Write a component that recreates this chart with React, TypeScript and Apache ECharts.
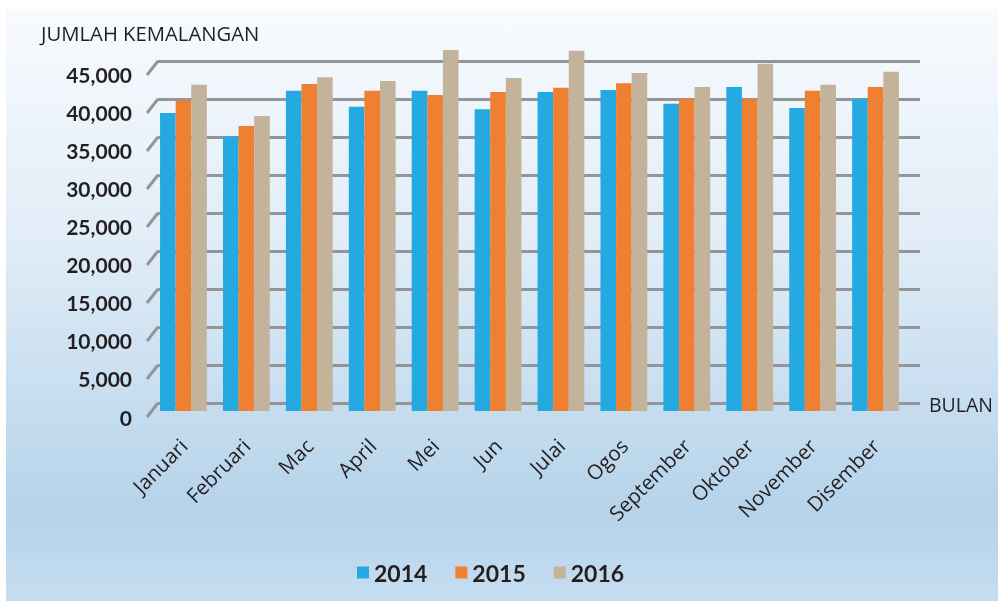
import React, { useEffect, useRef } from "react";
import * as echarts from "echarts";

const months = ["Januari", "Februari", "Mac", "April", "Mei", "Jun", "Julai", "Ogos", "September", "Oktober", "November", "Disember"];
const years = ["2014", "2015", "2016"];
const v2014 = [39100, 36000, 42000, 39900, 42000, 39600, 41850, 42100, 40300, 42500, 39750, 40950];
const v2015 = [40700, 37400, 42900, 42000, 41450, 41850, 42400, 43000, 40950, 40950, 42000, 42500];
const v2016 = [42800, 38700, 43800, 43300, 47350, 43700, 47250, 44350, 42500, 45550, 42800, 44500];
const yTicks = [0, 5000, 10000, 15000, 20000, 25000, 30000, 35000, 40000, 45000];
const colors = ["#24a9e1", "#ef7f31", "#c4b39b"];

const TEXT = "#231f20";
const GRID = "#939598";

export default function App() {
  const ref = useRef<HTMLDivElement>(null);
  useEffect(() => {
    if (!ref.current) return;
    const chart = echarts.init(ref.current, undefined, { renderer: "svg" });
    const seriesData = [v2014, v2015, v2016];
    chart.setOption({
      animation: false,
      color: colors,
      graphic: [
        {
          type: "rect",
          z: -10,
          silent: true,
          shape: { x: 6, y: 9, width: 992, height: 592 },
          style: {
            fill: new echarts.graphic.LinearGradient(0, 0, 0, 1, [
              { offset: 0, color: "#f8fbfe" },
              { offset: 0.4, color: "#e0ecf7" },
              { offset: 0.85, color: "#b5d3ea" },
              { offset: 1, color: "#c6ddf0" },
            ]),
          },
        },
        {
          type: "text",
          x: 41,
          y: 33,
          style: { text: "JUMLAH KEMALANGAN", fill: TEXT, font: "20.3px 'Open Sans'", verticalAlign: "middle" },
        },
        {
          type: "text",
          x: 929,
          y: 404,
          style: { text: "BULAN", fill: TEXT, font: "19.5px 'Open Sans'", verticalAlign: "middle" },
        },
      ],
      legend: {
        data: years,
        left: 352,
        top: 556,
        itemWidth: 12,
        itemHeight: 12,
        itemGap: 28,
        icon: "rect",
        textStyle: { color: TEXT, fontSize: 23, fontWeight: "bold", fontFamily: "Lato" },
      },
      grid: [
        { left: 158, top: 61, width: 762, height: 342 },
        { left: 152, top: 411 - (343 * 50000) / 45000, width: 755, height: (343 * 50000) / 45000 },
        { left: 147, top: 74, width: 10, height: 343 },
      ],
      xAxis: [
        { gridIndex: 0, type: "value", min: 0, max: 1, show: false },
        {
          gridIndex: 1,
          type: "category",
          data: months,
          axisLine: { show: false },
          axisTick: { show: false },
          axisLabel: {
            interval: 0,
            rotate: 45,
            margin: 31,
            color: TEXT,
            fontSize: 20.5,
            fontFamily: "Open Sans",
          },
        },
        { gridIndex: 2, type: "value", min: 0, max: 1, show: false },
      ],
      yAxis: [
        {
          gridIndex: 0,
          type: "value",
          min: 0,
          max: 45000,
          interval: 5000,
          axisLine: { show: false },
          axisTick: { show: false },
          axisLabel: { show: false },
          splitLine: { show: true, lineStyle: { color: GRID, width: 3 } },
        },
        { gridIndex: 1, type: "value", min: 0, max: 50000, show: false },
        {
          gridIndex: 2,
          type: "value",
          min: 0,
          max: 45000,
          interval: 5000,
          axisLine: { show: false },
          axisTick: { show: false },
          splitLine: { show: false },
          axisLabel: {
            margin: 15,
            color: TEXT,
            fontSize: 21,
            fontWeight: "bold",
            fontFamily: "Lato",
            formatter: (v: number) => v.toLocaleString("en-US"),
          },
        },
      ],
      series: [
        {
          type: "custom",
          xAxisIndex: 0,
          yAxisIndex: 0,
          silent: true,
          data: yTicks.map((v) => [0, v]),
          renderItem: (_p: any, api: any) => {
            const pt = api.coord([0, api.value(1)]);
            return {
              type: "line",
              shape: { x1: pt[0], y1: pt[1], x2: pt[0] - 11, y2: pt[1] + 14 },
              style: { stroke: GRID, lineWidth: 3 },
            };
          },
        },
        ...years.map((y, i) => ({
          name: y,
          type: "bar",
          xAxisIndex: 1,
          yAxisIndex: 1,
          data: seriesData[i],
          barWidth: 15.6,
          barGap: "0%",
          z: 5,
          itemStyle: { color: colors[i] },
        })),
      ],
    });
    return () => chart.dispose();
  }, []);
  return <div ref={ref} style={{ position: "fixed", left: 0, top: 0, width: 998, height: 601 }} />;
}
